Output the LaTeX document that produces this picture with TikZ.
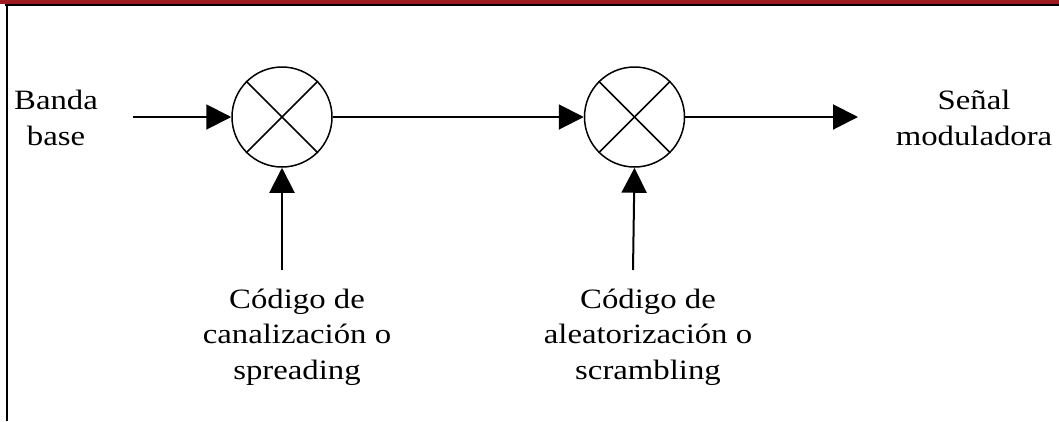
\documentclass[tikz,border=0pt]{standalone}
\usepackage{fontspec}
\setmainfont{Liberation Serif}[FakeStretch=1.17]
\usetikzlibrary{positioning,arrows.meta}
\definecolor{bandred}{RGB}{155,27,32}

\begin{document}
\begin{tikzpicture}[x=1pt,y=-1pt]
    \tikzstyle{every node}=[font=\fontsize{28}{35.5}\selectfont, align=center]
    \tikzset{
        mix/.style={draw, circle, line width=1.5pt, minimum size=100pt, inner sep=0pt},
        sig/.style={line width=2pt, -{Triangle[length=25pt, width=25pt]}}
        }
    \useasboundingbox (0,0) rectangle (1059,421);

    %frame
    \fill[bandred] (0,0) rectangle (1059,3.5);
    \draw[line width=2pt] (5,4.5) -- (1059,4.5);
    \draw[line width=2pt] (7,4.5) -- (7,421);

    %mixers
    \node (mixA) [mix] at (282,117) {};
    \node (mixB) [mix, right=251pt of mixA] {};
    \foreach \m in {mixA,mixB}{
        \draw[line width=1.5pt] (\m.north west) -- (\m.south east);
        \draw[line width=1.5pt] (\m.south west) -- (\m.north east);
    }

    %labels
    \node (banda) at (56,118) {Banda\\base};
    \node (senal) at (974,118) {Señal\\moduladora};
    \node (codeA) at (297,337) {Código de\\canalización o\\spreading};
    \node (codeB) at (648,337) {Código de\\aleatorización o\\scrambling};

    \coordinate (inA) at (133,117);
    \coordinate (outB) at (858,117);
    \coordinate (chipA) at (282,270);
    \coordinate (chipB) at (633,270);

    \draw[sig] (inA) -- (mixA.west);
    \draw[sig] (mixA.east) -- (mixB.west);
    \draw[sig] (mixB.east) -- (outB);
    \draw[sig] (chipA) -- (mixA.south);
    \draw[sig] (chipB) -- (mixB.south);
\end{tikzpicture}
\end{document}
